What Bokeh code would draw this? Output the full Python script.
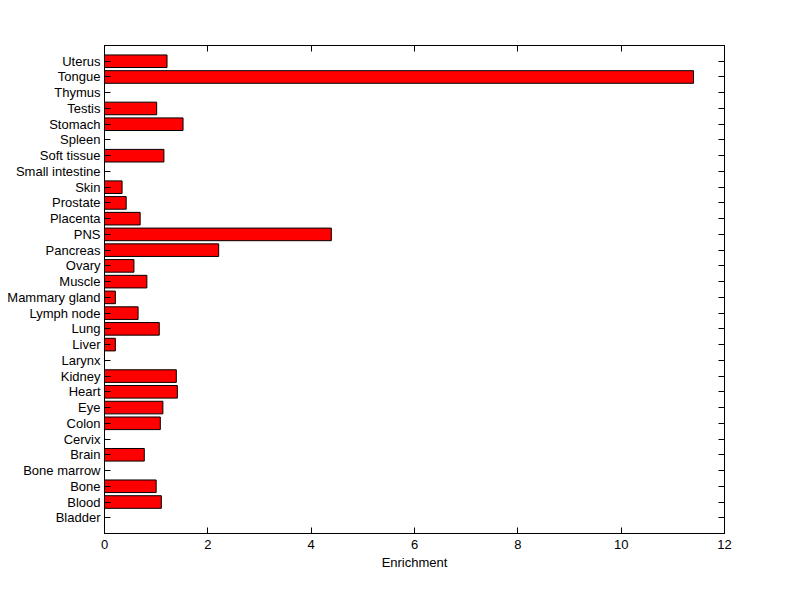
from bokeh.plotting import figure
from bokeh.models import LinearAxis, FixedTicker, Range1d, ColumnDataSource
from bokeh.embed import file_html
from bokeh.resources import INLINE

tissues = ["Bladder", "Blood", "Bone", "Bone marrow", "Brain", "Cervix", "Colon", "Eye",
           "Heart", "Kidney", "Larynx", "Liver", "Lung", "Lymph node", "Mammary gland",
           "Muscle", "Ovary", "Pancreas", "PNS", "Placenta", "Prostate", "Skin",
           "Small intestine", "Soft tissue", "Spleen", "Stomach", "Testis", "Thymus",
           "Tongue", "Uterus"]
enrichment = [0.0, 1.10, 1.00, 0.0, 0.77, 0.0, 1.08, 1.13,
              1.41, 1.39, 0.0, 0.21, 1.06, 0.65, 0.21,
              0.82, 0.57, 2.21, 4.39, 0.69, 0.42, 0.34,
              0.0, 1.15, 0.0, 1.52, 1.01, 0.0,
              11.40, 1.21]
x_ticks = [0, 2, 4, 6, 8, 10, 12]

positions = list(range(1, len(tissues) + 1))

FONT = "Liberation Sans"

p = figure(width=792, height=591, output_backend="svg", toolbar_location=None,
           x_range=Range1d(0, 12), y_range=Range1d(0, len(tissues) + 1),
           min_border_left=104, min_border_right=68, min_border_top=45, min_border_bottom=58)

src = ColumnDataSource(dict(y=[y for y, e in zip(positions, enrichment) if e > 0],
                            v=[e for e in enrichment if e > 0]))
p.hbar(y="y", right="v", left=0, height=0.8, source=src,
       fill_color="#ff0000", line_color="black", line_width=1)

p.xgrid.visible = False
p.ygrid.visible = False
p.outline_line_color = "black"
p.outline_line_width = 1
p.background_fill_color = "white"
p.border_fill_color = "white"

xa = p.xaxis[0]
xa.ticker = FixedTicker(ticks=x_ticks)
xa.axis_label = "Enrichment"
ya = p.yaxis[0]
ya.ticker = FixedTicker(ticks=positions)
ya.major_label_overrides = {i: t for i, t in zip(positions, tissues)}

top = LinearAxis(ticker=FixedTicker(ticks=x_ticks))
right = LinearAxis(ticker=FixedTicker(ticks=positions))
p.add_layout(top, "above")
p.add_layout(right, "right")

for ax in [xa, ya, top, right]:
    ax.axis_line_color = "black"
    ax.major_tick_line_color = "black"
    ax.major_tick_in = 6
    ax.major_tick_out = 0
    ax.minor_tick_line_color = None
    ax.major_label_text_font = FONT
    ax.major_label_text_font_size = "13px"
    ax.major_label_text_color = "black"
    ax.axis_label_text_font = FONT
    ax.axis_label_text_font_size = "13px"
    ax.axis_label_text_font_style = "normal"
    ax.axis_label_text_color = "black"
for ax in [top, right]:
    ax.major_label_text_font_size = "0px"
    ax.major_label_text_color = None
    ax.major_label_standoff = 0
xa.major_label_standoff = 6
xa.axis_label_standoff = 3
ya.major_label_standoff = 4

open("out.html", "w").write(file_html(p, INLINE))
